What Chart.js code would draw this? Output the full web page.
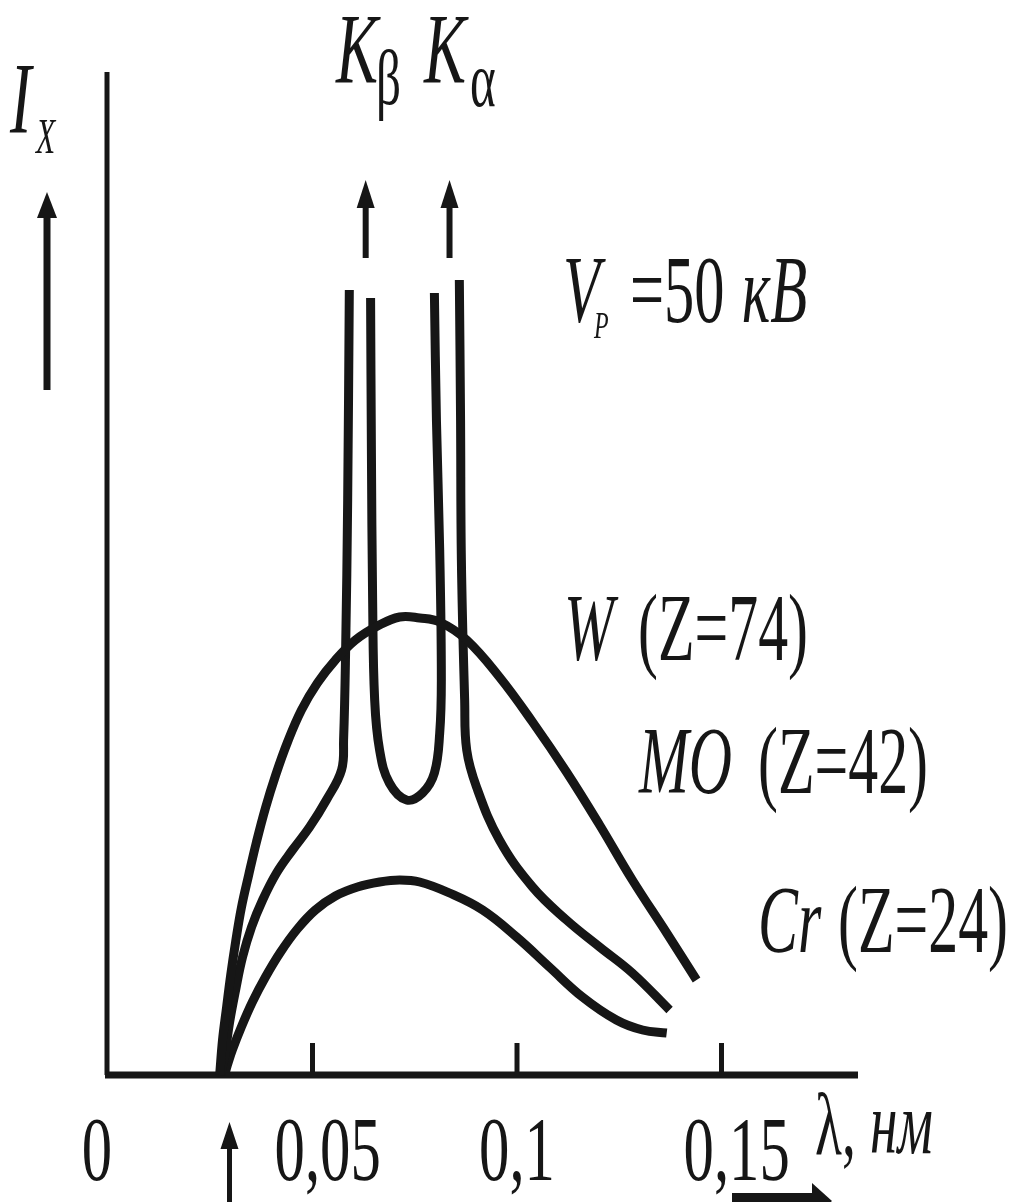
<!DOCTYPE html>
<html lang="ru">
<head>
<meta charset="utf-8">
<title>Спектр рентгеновского излучения</title>
<script src="https://cdn.jsdelivr.net/npm/chart.js@4.4.1/dist/chart.umd.min.js"></script>
<style>
  html, body { margin: 0; padding: 0; background: #fff; }
  canvas { display: block; }
</style>
</head>
<body>
<canvas id="spectrum" width="1019" height="1202"></canvas>
<script>
// wavelength in nm, intensity in arbitrary units (0..100)
const wLambda    = [0.0273, 0.0280, 0.0290, 0.0300, 0.0312, 0.0326, 0.0344, 0.0363, 0.0385, 0.0410, 0.0439,
                    0.0473, 0.0512, 0.0556, 0.0605, 0.0659, 0.0713, 0.0762, 0.0811, 0.0877, 0.0957,
                    0.1038, 0.1121, 0.1202, 0.1282, 0.1366, 0.1439];
const wIntensity = [0, 3.5, 6.8, 10.0, 13.3, 16.7, 20.0, 23.3, 26.7, 30.0, 33.3,
                    36.5, 39.2, 41.5, 43.5, 44.9, 45.8, 45.7, 45.3, 43.5, 39.8,
                    35.3, 30.3, 25.0, 19.5, 14.2, 9.5];

// Mo: continuum with the K-beta and K-alpha lines (null = line runs off the top)
const moLambda    = [0.0275, 0.0285, 0.0297, 0.0312, 0.0329, 0.0351, 0.0378, 0.0412, 0.0451, 0.0493, 0.0534,
                     0.0571, 0.0576, 0.0581, 0.0586, 0.0590,
                     0.0616,
                     0.0642, 0.0644, 0.0647, 0.0652, 0.0664, 0.0688, 0.0730, 0.0769, 0.0798, 0.0811,
                     0.0815, 0.0811, 0.0803, 0.0798,
                     0.0830,
                     0.0859, 0.0862, 0.0864, 0.0872, 0.0877, 0.0901, 0.0957, 0.1038, 0.1121, 0.1202,
                     0.1282, 0.1373];
const moIntensity = [0, 1.8, 5.2, 8.5, 11.8, 14.8, 17.5, 20.2, 22.5, 24.8, 27.5,
                     30.5, 33.5, 42.5, 57.5, 78.5,
                     null,
                     77.7, 62.5, 47.5, 37.5, 32.5, 29.2, 27.5, 28.2, 30.2, 34.2,
                     39.5, 52.5, 65.5, 78.2,
                     null,
                     79.5, 65.5, 51.5, 37.5, 32.5, 28.8, 23.5, 18.8, 15.5, 12.8,
                     10.2, 6.5];

const crLambda    = [0.0287, 0.0292, 0.0304, 0.0326, 0.0353, 0.0385, 0.0422, 0.0463, 0.0507, 0.0556, 0.0610,
                     0.0664, 0.0713, 0.0762, 0.0835, 0.0916, 0.0999, 0.1079, 0.1160, 0.1243, 0.1307, 0.1366];
const crIntensity = [0.3, 1.0, 2.5, 4.8, 7.3, 9.8, 12.3, 14.6, 16.5, 17.9, 18.8,
                     19.3, 19.5, 19.3, 18.2, 16.5, 13.8, 10.8, 7.8, 5.5, 4.5, 4.2];

const xTicks      = [0, 0.05, 0.1, 0.15];
const xTickLabels = ["0", "0,05", "0,1", "0,15"];

// characteristic lines and short-wave limit, nm
const kBetaLambda  = 0.0630;
const kAlphaLambda = 0.0835;
const lambdaMin    = 0.0297;

const INK   = "#161616";
const SERIF = '"Liberation Serif", "Times New Roman", serif';
const SQUEEZE      = 0.63;
const TICK_SQUEEZE = 0.66;

const toPoints = (xs, ys) => xs.map((x, i) => ({ x, y: ys[i] }));

function squeezedText(ctx, str, x, y, size, italic, sx = SQUEEZE) {
  ctx.save();
  ctx.font = `${italic ? "italic " : ""}${size}px ${SERIF}`;
  ctx.textBaseline = "alphabetic";
  ctx.translate(x, y);
  ctx.scale(sx, 1);
  ctx.fillText(str, 0, 0);
  ctx.restore();
}

function arrowUp(ctx, x, tail, tip, shaft, headW, headL) {
  ctx.lineWidth = shaft;
  ctx.beginPath();
  ctx.moveTo(x, tail);
  ctx.lineTo(x, tip + headL - 2);
  ctx.stroke();
  ctx.beginPath();
  ctx.moveTo(x, tip);
  ctx.lineTo(x - headW / 2, tip + headL);
  ctx.lineTo(x + headW / 2, tip + headL);
  ctx.closePath();
  ctx.fill();
}

// [text, x, baseline, size, italic]
const annotations = [
  ["I",      10,  133, 102, true],
  ["X",      36,  153, 50,  true],
  ["K",      336, 82,  100, true],
  ["β",      376, 104, 78,  false],
  ["K",      424, 82,  100, true],
  ["α",      470, 106, 78,  false],
  ["V",      563, 322, 96,  true],
  ["P",      594, 338, 38,  true],
  ["=50",    630, 322, 96,  false],
  ["кВ",     742, 322, 96,  true],
  ["W",      564, 660, 95,  true],
  ["(Z=74)", 638, 660, 95,  false],
  ["MO",     639, 793, 95,  true],
  ["(Z=42)", 758, 793, 95,  false],
  ["Cr",     758, 952, 95,  true],
  ["(Z=24)", 838, 952, 95,  false],
  ["λ,",     815, 1155, 88, false],
  ["нм",     870, 1153, 88, true],
];

const decor = {
  id: "spectrumDecor",
  beforeDatasetsDraw(chart) {
    const { ctx, chartArea: a, scales: { x } } = chart;
    ctx.save();
    ctx.strokeStyle = INK;
    ctx.lineCap = "butt";
    // axes
    ctx.lineWidth = 5;
    ctx.beginPath();
    ctx.moveTo(a.left - 1, a.top - 3);
    ctx.lineTo(a.left - 1, a.bottom);
    ctx.stroke();
    ctx.lineWidth = 7;
    ctx.beginPath();
    ctx.moveTo(a.left - 3, a.bottom);
    ctx.lineTo(a.right, a.bottom);
    ctx.stroke();
    // tick marks point up into the plot
    ctx.lineWidth = 5;
    xTicks.forEach((v) => {
      if (v === 0) return;
      const px = x.getPixelForValue(v);
      ctx.beginPath();
      ctx.moveTo(px, a.bottom);
      ctx.lineTo(px, a.bottom - 32);
      ctx.stroke();
    });
    ctx.restore();
  },
  afterDraw(chart) {
    const { ctx, scales: { x } } = chart;
    ctx.save();
    ctx.fillStyle = INK;
    ctx.strokeStyle = INK;

    // tick labels: decimal comma sits on the tick
    xTickLabels.forEach((lab, i) => {
      ctx.font = `92px ${SERIF}`;
      const px = x.getPixelForValue(xTicks[i]);
      const c = lab.indexOf(",");
      let left;
      if (c < 0) {
        left = px - 11 - ctx.measureText(lab).width * TICK_SQUEEZE / 2;
      } else {
        const pre = ctx.measureText(lab.slice(0, c)).width + ctx.measureText(",").width / 2;
        left = px - pre * TICK_SQUEEZE;
      }
      squeezedText(ctx, lab, left, 1180, 92, false, TICK_SQUEEZE);
    });

    annotations.forEach(([t, tx, ty, size, it]) => squeezedText(ctx, t, tx, ty, size, it));

    // intensity arrow beside the axis
    arrowUp(ctx, 47, 390, 192, 7, 20, 26);
    // lines continue above the frame
    arrowUp(ctx, x.getPixelForValue(kBetaLambda), 258, 180, 6, 18, 28);
    arrowUp(ctx, x.getPixelForValue(kAlphaLambda), 258, 180, 6, 18, 28);
    // short-wave limit marker
    arrowUp(ctx, x.getPixelForValue(lambdaMin), 1210, 1122, 5, 18, 27);

    // direction of increasing wavelength
    ctx.fillRect(732, 1193, 84, 13);
    ctx.beginPath();
    ctx.moveTo(812, 1183);
    ctx.lineTo(832, 1201);
    ctx.lineTo(812, 1219);
    ctx.closePath();
    ctx.fill();
    ctx.restore();
  },
};

const lineStyle = {
  borderColor: INK,
  borderWidth: 9,
  pointRadius: 0,
  tension: 0.4,
  fill: false,
  spanGaps: false,
  clip: false,
  borderJoinStyle: "round",
};

new Chart(document.getElementById("spectrum"), {
  type: "line",
  data: {
    datasets: [
      { label: "W (Z=74)",  data: toPoints(wLambda, wIntensity),   ...lineStyle },
      { label: "Mo (Z=42)", data: toPoints(moLambda, moIntensity), ...lineStyle },
      { label: "Cr (Z=24)", data: toPoints(crLambda, crIntensity), ...lineStyle },
    ],
  },
  options: {
    responsive: false,
    animation: false,
    events: [],
    layout: { padding: { left: 108, right: 161, top: 75, bottom: 127 } },
    plugins: { legend: { display: false }, tooltip: { enabled: false } },
    scales: {
      x: { type: "linear", min: 0, max: 0.18337, display: false },
      y: { type: "linear", min: 0, max: 100, display: false },
    },
  },
  plugins: [decor],
});
</script>
</body>
</html>
